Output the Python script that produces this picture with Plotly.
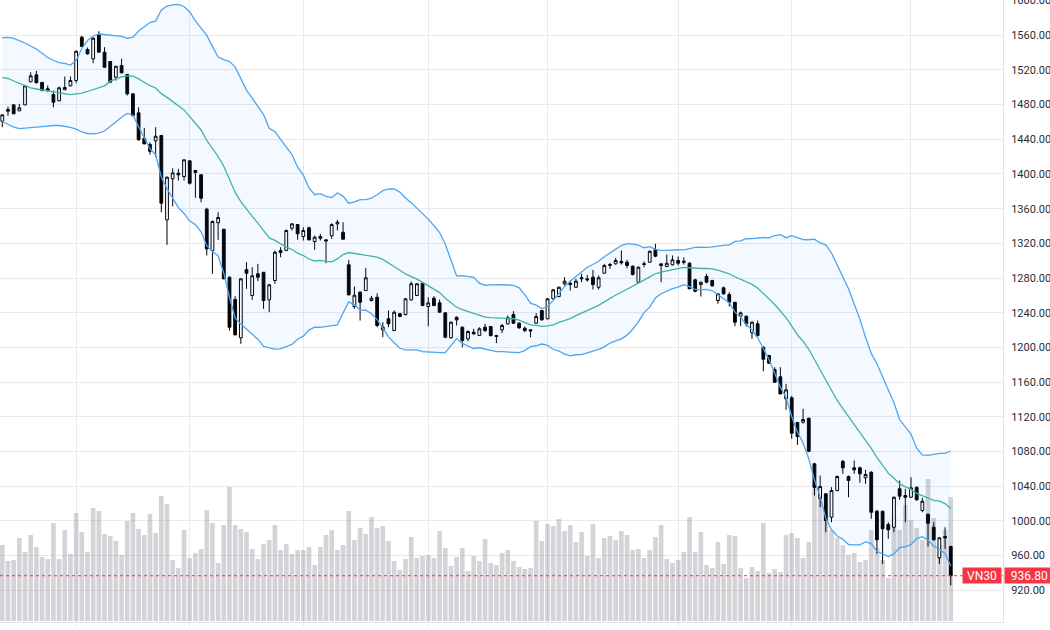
import numpy as np
import pandas as pd
import plotly.graph_objects as go

# ---------------- data (VN30 daily) ----------------
open_ = [1460.8, 1474.3, 1479.7, 1472.8, 1479.7, 1506.3, 1514.3, 1505.5, 1498.2, 1491.6,
         1484.4, 1497.0, 1501.6, 1507.8, 1557.7, 1543.5, 1532.8, 1560.5, 1540.4, 1529.7,
         1511.6, 1525.1, 1514.7, 1492.4, 1470.5, 1441.2, 1434.0, 1438.2, 1444.3, 1347.1,
         1394.4, 1400.9, 1397.1, 1415.2, 1401.7, 1399.0, 1359.4, 1311.7, 1343.7, 1336.3,
         1281.0, 1255.3, 1211.1, 1289.8, 1259.9, 1284.9, 1286.7, 1254.9, 1277.2, 1311.7,
         1311.7, 1337.5, 1341.7, 1327.9, 1337.9, 1322.1, 1327.9, 1324.1, 1328.7, 1342.5,
         1332.8, 1295.3, 1247.2, 1263.7, 1265.6, 1254.1, 1257.9, 1220.3, 1233.0, 1219.5,
         1238.8, 1238.0, 1254.9, 1259.9, 1274.0, 1247.2, 1256.8, 1251.4, 1239.9, 1211.1,
         1234.8, 1223.3, 1209.9, 1217.6, 1213.7, 1223.3, 1224.1, 1213.7, 1220.3, 1227.2,
         1238.0, 1228.0, 1222.2, 1220.3, 1228.0, 1242.6, 1233.0, 1256.1, 1258.7, 1273.3,
         1274.0, 1269.4, 1279.1, 1279.1, 1281.0, 1269.4, 1285.6, 1294.5, 1296.4, 1299.1,
         1298.3, 1293.7, 1275.2, 1295.6, 1298.3, 1312.9, 1296.4, 1293.3, 1295.3, 1300.2,
         1299.4, 1297.1, 1278.0, 1272.5, 1281.8, 1277.2, 1254.1, 1268.7, 1261.0, 1252.1,
         1236.0, 1236.0, 1216.9, 1227.2, 1200.3, 1190.7, 1174.5, 1166.1, 1140.8, 1141.9,
         1113.4, 1113.8, 1118.4, 1065.8, 1025.4, 1031.2, 1004.2, 1035.0, 1068.5, 1051.2,
         1061.2, 1061.2, 1049.7, 1056.1, 1011.1, 1011.1, 995.8, 992.7, 1037.0, 1029.3,
         1027.3, 1038.8, 1012.0, 1007.4, 992.7, 957.4, 982.0, 970.5]

high = [1468.2, 1477.8, 1480.1, 1480.9, 1502.0, 1517.3, 1518.9, 1506.3, 1502.0, 1496.2,
        1500.8, 1512.4, 1512.4, 1542.3, 1559.3, 1545.8, 1557.7, 1564.6, 1546.2, 1530.0,
        1524.7, 1532.8, 1515.5, 1493.1, 1477.0, 1453.2, 1436.6, 1453.9, 1445.1, 1397.1,
        1406.6, 1406.0, 1416.7, 1415.5, 1404.8, 1399.7, 1361.0, 1346.3, 1355.9, 1336.8,
        1281.8, 1259.1, 1279.8, 1298.3, 1292.5, 1296.4, 1286.7, 1273.4, 1311.7, 1315.6,
        1336.0, 1343.2, 1341.7, 1338.6, 1339.4, 1329.0, 1331.0, 1324.1, 1343.2, 1347.1,
        1344.4, 1301.0, 1270.2, 1264.8, 1291.8, 1259.5, 1262.5, 1229.1, 1242.6, 1242.6,
        1239.9, 1256.8, 1276.0, 1274.0, 1274.9, 1257.9, 1259.1, 1255.3, 1240.6, 1229.9,
        1235.6, 1224.1, 1219.5, 1221.5, 1223.3, 1227.2, 1224.5, 1214.6, 1227.2, 1236.8,
        1241.8, 1229.1, 1224.1, 1220.3, 1239.5, 1243.4, 1256.8, 1267.6, 1270.2, 1281.0,
        1277.2, 1279.1, 1284.9, 1283.7, 1289.5, 1282.9, 1296.4, 1297.6, 1303.3, 1311.7,
        1301.0, 1294.5, 1293.3, 1299.4, 1311.7, 1319.5, 1296.4, 1307.1, 1306.0, 1304.8,
        1304.0, 1298.3, 1279.1, 1276.0, 1284.9, 1278.0, 1262.5, 1270.2, 1263.7, 1252.1,
        1241.4, 1236.8, 1229.9, 1231.0, 1201.1, 1191.5, 1177.2, 1177.2, 1158.0, 1144.2,
        1114.2, 1129.2, 1118.9, 1066.9, 1052.3, 1031.9, 1038.9, 1052.3, 1070.4, 1052.3,
        1069.6, 1062.7, 1058.9, 1057.3, 1012.8, 1011.9, 998.5, 1028.1, 1046.6, 1037.0,
        1050.4, 1039.6, 1026.6, 1008.9, 998.5, 981.2, 992.7, 971.3]

low = [1453.9, 1467.1, 1468.9, 1472.8, 1479.3, 1505.8, 1504.6, 1495.4, 1494.3, 1477.0,
       1483.9, 1497.0, 1501.2, 1504.6, 1546.2, 1537.7, 1527.7, 1540.4, 1522.4, 1505.1,
       1507.8, 1516.2, 1490.5, 1466.3, 1438.6, 1434.0, 1422.4, 1419.3, 1355.9, 1318.3,
       1362.8, 1392.5, 1392.5, 1387.8, 1372.5, 1367.4, 1306.0, 1284.9, 1324.1, 1278.7,
       1219.5, 1213.7, 1204.2, 1267.6, 1254.9, 1276.4, 1244.5, 1240.6, 1273.3, 1304.0,
       1311.7, 1334.8, 1324.1, 1323.3, 1323.3, 1312.6, 1323.3, 1297.1, 1325.2, 1334.8,
       1324.8, 1259.9, 1244.5, 1231.0, 1265.6, 1252.9, 1223.3, 1211.8, 1223.3, 1218.7,
       1234.8, 1236.8, 1254.1, 1259.1, 1247.5, 1224.5, 1247.5, 1239.9, 1210.6, 1209.9,
       1225.3, 1200.3, 1207.2, 1214.6, 1213.4, 1217.6, 1212.6, 1204.9, 1216.4, 1226.4,
       1227.2, 1221.5, 1217.6, 1211.8, 1227.2, 1231.0, 1232.5, 1255.3, 1257.9, 1271.4,
       1265.6, 1268.7, 1275.2, 1276.0, 1266.8, 1266.8, 1284.9, 1290.7, 1295.6, 1295.6,
       1291.3, 1282.9, 1274.5, 1292.5, 1297.6, 1304.0, 1275.2, 1292.5, 1294.5, 1294.5,
       1295.6, 1267.6, 1263.7, 1258.7, 1274.0, 1270.2, 1250.3, 1261.0, 1247.2, 1224.5,
       1224.5, 1224.1, 1209.9, 1212.6, 1172.6, 1181.1, 1159.2, 1145.7, 1128.1, 1094.6,
       1087.7, 1112.0, 1079.2, 1029.3, 1015.8, 987.0, 998.5, 1034.2, 1054.3, 1027.3,
       1054.3, 1043.9, 1042.8, 1002.4, 962.0, 950.5, 979.3, 987.0, 1024.3, 998.5,
       1026.6, 1023.5, 1010.0, 970.5, 977.4, 950.5, 967.8, 925.5]

close = [1468.2, 1472.4, 1469.4, 1476.3, 1501.6, 1513.2, 1505.1, 1496.2, 1496.2, 1482.7,
         1499.3, 1499.7, 1507.8, 1541.5, 1547.0, 1538.5, 1556.5, 1540.4, 1523.1, 1505.8,
         1524.2, 1516.6, 1492.4, 1467.4, 1439.4, 1434.8, 1426.2, 1443.5, 1366.3, 1396.3,
         1401.3, 1399.0, 1416.3, 1389.3, 1404.0, 1372.1, 1313.7, 1345.2, 1349.8, 1279.1,
         1223.3, 1214.6, 1279.1, 1285.6, 1282.6, 1281.0, 1254.1, 1272.2, 1309.8, 1309.4,
         1334.8, 1342.5, 1331.0, 1334.8, 1324.1, 1327.1, 1325.9, 1322.9, 1341.7, 1344.4,
         1324.8, 1260.7, 1260.2, 1252.1, 1280.3, 1256.8, 1225.3, 1223.3, 1227.2, 1240.6,
         1235.7, 1256.1, 1273.4, 1273.4, 1248.3, 1251.4, 1248.3, 1240.6, 1211.8, 1229.1,
         1231.8, 1208.0, 1218.4, 1215.7, 1221.5, 1219.5, 1213.7, 1212.6, 1225.3, 1234.2,
         1228.0, 1222.6, 1219.5, 1219.2, 1235.7, 1231.8, 1256.1, 1266.4, 1269.4, 1276.4,
         1272.5, 1276.4, 1280.3, 1278.0, 1272.5, 1280.3, 1294.5, 1295.6, 1300.2, 1297.6,
         1294.5, 1284.1, 1292.5, 1296.4, 1310.9, 1305.2, 1294.5, 1297.1, 1301.0, 1297.1,
         1298.3, 1267.6, 1264.8, 1275.2, 1275.2, 1271.0, 1261.8, 1261.8, 1252.1, 1229.1,
         1239.9, 1227.2, 1229.1, 1213.7, 1186.4, 1181.8, 1159.9, 1146.5, 1151.1, 1101.1,
         1097.3, 1116.9, 1080.3, 1038.8, 1039.6, 1000.4, 1035.0, 1051.2, 1061.2, 1046.6,
         1058.9, 1054.3, 1053.5, 1010.0, 978.2, 990.9, 989.7, 1027.3, 1028.5, 1027.3,
         1038.1, 1024.3, 1022.7, 997.3, 978.2, 980.5, 980.5, 936.8]

volume = [76, 60, 61, 83, 69, 86, 74, 64, 62, 98,
          62, 91, 67, 108, 89, 69, 113, 110, 87, 85,
          80, 66, 100, 108, 92, 86, 107, 88, 125, 117,
          61, 53, 91, 63, 68, 72, 111, 98, 58, 96,
          134, 96, 92, 89, 72, 62, 77, 81, 96, 71,
          77, 67, 71, 71, 74, 56, 74, 86, 91, 71,
          76, 110, 81, 93, 87, 104, 93, 95, 80, 60,
          51, 62, 84, 63, 65, 66, 63, 90, 73, 55,
          64, 73, 50, 65, 60, 82, 58, 56, 68, 71,
          60, 54, 52, 53, 100, 80, 97, 95, 102, 90,
          96, 79, 89, 65, 97, 63, 83, 85, 81, 90,
          86, 71, 72, 63, 71, 84, 96, 62, 58, 61,
          69, 104, 69, 89, 56, 53, 79, 57, 86, 85,
          53, 43, 54, 50, 98, 48, 52, 49, 86, 88,
          83, 63, 79, 136, 121, 109, 91, 83, 76, 66,
          68, 59, 61, 91, 73, 61, 43, 106, 91, 116,
          101, 93, 81, 142, 103, 76, 91, 124]

# Bollinger band values for the first 19 sessions (their history lies left of the view)
bb_upper_head = [1557.1, 1557.6, 1556.4, 1554.1, 1551.0, 1547.5, 1544.1, 1539.1, 1534.3, 1531.1,
                 1528.3, 1527.4, 1525.6, 1530.8, 1544.7, 1553.9, 1559.1, 1561.4, 1560.8]
bb_mid_head = [1511.3, 1510.1, 1507.2, 1504.3, 1501.6, 1499.3, 1498.0, 1497.0, 1495.7, 1494.5,
               1493.3, 1492.4, 1491.6, 1492.4, 1493.3, 1495.1, 1497.0, 1499.3, 1501.6]
bb_lower_head = [1460.5, 1457.0, 1454.1, 1452.2, 1452.6, 1453.3, 1454.1, 1454.7, 1455.5, 1455.9,
                 1455.9, 1454.9, 1453.8, 1451.8, 1448.4, 1446.7, 1446.3, 1447.0, 1449.5]

month_starts = [13, 33, 53, 75, 96, 119, 139, 160]
price_ticks = [920, 960, 1000, 1040, 1080, 1120, 1160, 1200, 1240, 1280, 1320,
               1360, 1400, 1440, 1480, 1520, 1560, 1600]
symbol = "VN30"
last_price = 936.80

# ---------------- derived ----------------
n = len(close)
idx = list(range(n))
s = pd.Series(close, dtype=float)
mid = s.rolling(20).mean()
sd = s.rolling(20).std(ddof=0)
upper = mid + 2 * sd
lower = mid - 2 * sd
h = len(bb_mid_head)
mid.iloc[:h] = bb_mid_head
upper.iloc[:h] = bb_upper_head
lower.iloc[:h] = bb_lower_head

GRID = "#e9e9ee"
RED = "#f23645"
BAND = "#4ea5f0"
BASIS = "#43b3a3"

fig = go.Figure()

fig.add_trace(go.Bar(
    x=idx, y=volume, width=0.82, marker=dict(color="rgba(128,130,142,0.34)", line=dict(width=0)),
    yaxis="y", hoverinfo="skip", showlegend=False))

fig.add_trace(go.Scatter(
    x=idx, y=upper, mode="lines", line=dict(color=BAND, width=1.3), yaxis="y2",
    hoverinfo="skip", showlegend=False))
fig.add_trace(go.Scatter(
    x=idx, y=lower, mode="lines", line=dict(color=BAND, width=1.3), yaxis="y2",
    fill="tonexty", fillcolor="rgba(33,150,243,0.055)", hoverinfo="skip", showlegend=False))
fig.add_trace(go.Scatter(
    x=idx, y=mid, mode="lines", line=dict(color=BASIS, width=1.3), yaxis="y2",
    hoverinfo="skip", showlegend=False))

fig.add_trace(go.Candlestick(
    x=idx, open=open_, high=high, low=low, close=close, yaxis="y2",
    increasing=dict(line=dict(color="#000000", width=1), fillcolor="#ffffff"),
    decreasing=dict(line=dict(color="#000000", width=1), fillcolor="#000000"),
    whiskerwidth=0, hoverinfo="skip", showlegend=False))

x_lo = -0.405
x_hi = 176.2
y_top = 1600.6
y_bot = y_top - 622 * 1.153

fig.update_layout(
    width=1050, height=630,
    margin=dict(l=0, r=47, t=0, b=8, autoexpand=False),
    paper_bgcolor="#ffffff", plot_bgcolor="#ffffff",
    showlegend=False, hovermode=False, boxgap=0.3,
    font=dict(family="Roboto, Arial, sans-serif", size=12, color="#2a2e39"),
    xaxis=dict(range=[x_lo, x_hi], tickvals=month_starts, showticklabels=False,
               showgrid=True, gridcolor=GRID, gridwidth=1, zeroline=False,
               ticks="outside", ticklen=4, tickcolor=GRID, automargin=False,
               showline=True, linecolor="#e0e3eb", linewidth=1,
               rangeslider=dict(visible=False), fixedrange=True),
    yaxis=dict(range=[-1, 621], visible=False, showgrid=False, zeroline=False,
               fixedrange=True, automargin=False),
    yaxis2=dict(range=[y_bot, y_top], overlaying="y", side="right", anchor="x",
                tickvals=price_ticks, tickformat=".2f", showgrid=True, gridcolor=GRID,
                zeroline=False, ticks="outside", ticklen=5, tickcolor="rgba(0,0,0,0)",
                showline=True, linecolor="#e0e3eb", linewidth=1, automargin=False,
                ticklabeloverflow="allow",
                tickfont=dict(size=11, color="#2a2e39"), fixedrange=True),
)

fig.add_shape(type="line", xref="paper", x0=0, x1=1, yref="y2", y0=last_price, y1=last_price,
              line=dict(color=RED, width=1, dash="dot"))

fig.add_annotation(xref="paper", x=1, xanchor="right", xshift=-1, yref="y2", y=last_price,
                   yanchor="middle", text=symbol, showarrow=False, bgcolor=RED,
                   font=dict(color="#ffffff", size=12), borderpad=2, height=11, width=34)
fig.add_annotation(xref="paper", x=1, xanchor="left", xshift=1, yref="y2", y=last_price,
                   yanchor="middle", text=f"{last_price:.2f}", showarrow=False, bgcolor=RED,
                   font=dict(color="#ffffff", size=12), borderpad=2, height=11, width=41,
                   align="right")

fig.write_html("out.html")
